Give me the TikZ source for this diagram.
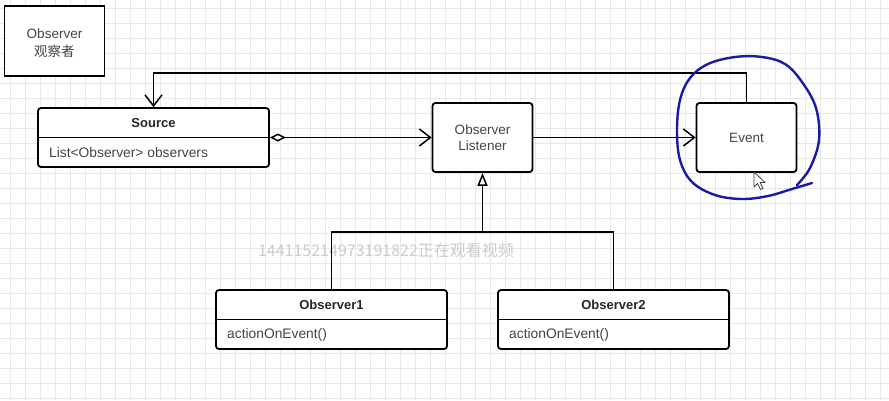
\documentclass[tikz,border=0pt]{standalone}
\usepackage{fontspec}
\setmainfont{Liberation Sans}
\newfontfamily\cjk{Noto Sans CJK SC}
\usetikzlibrary{arrows.meta,positioning}
\definecolor{gridgray}{HTML}{E8E8E8}
\definecolor{textgray}{HTML}{444444}
\definecolor{penblue}{HTML}{1A1AA6}
\begin{document}
\begin{tikzpicture}[x=1pt,y=-1pt,
  box/.style={draw=black,line width=1.8pt,fill=white,inner sep=0pt},
  notebox/.style={box,minimum width=100pt,minimum height=70pt},
  classbox/.style={box,rounded corners=3pt,minimum width=231pt,minimum height=59pt},
  simplebox/.style={box,rounded corners=3pt,minimum width=100pt,minimum height=69pt,align=center,text=textgray,font=\fontsize{13.5}{16}\selectfont},
  label/.style={align=center,text=textgray,inner sep=0pt,font=\fontsize{13.5}{18}\selectfont},
  title/.style={font=\fontsize{13}{15}\selectfont\bfseries,text=black!85,inner sep=0pt},
  attr/.style={font=\fontsize{13.8}{15}\selectfont,text=textgray,anchor=west,inner sep=0pt},
  link/.style={line width=1.5pt},
  barb/.style={link,-{Straight Barb[length=11pt,width=17pt,line width=1.5pt]}},
  aggr/.style={link,{Diamond[open,length=16pt,width=8pt,line width=1.5pt]}-{Straight Barb[length=11pt,width=17pt,line width=1.5pt]}},
  inherit/.style={link,-{Triangle[open,length=13pt,width=10pt,line width=1.5pt]}}]
\useasboundingbox (0,0) rectangle (889,400);
\fill [white] (0,0) rectangle (889,400);
\foreach \x in {10,25,...,889} \draw [gridgray,line width=0.8pt] (\x,0) -- (\x,400);
\foreach \y in {8,23,...,400} \draw [gridgray,line width=0.8pt] (0,\y) -- (889,\y);
\node [notebox] (note) at (54.5,41) {};
\node [label] (notetext) at (54.5,43) {Observer\\{\cjk 观察者}};
\node [font=\cjk\fontsize{16}{18}\selectfont,text=gray!40] (mark) at (386,250) {144115214973191822正在观看视频};
\node [classbox] (source) at (153.5,137.5) {};
\node [title] (sourcetitle) at (153.5,123) {Source};
\draw [line width=1.6pt] (source.west) -- (source.east);
\node [attr] (sourceattr) at (49,153) {List<Observer> observers};
\node [simplebox] (listener) at (482.5,137.5) {Observer\\Listener};
\node [simplebox] (event) at (746.5,137.5) {Event};
\node [classbox] (obs1) at (331.5,319.5) {};
\node [title] (obs1title) at (331.5,305) {Observer1};
\draw [line width=1.6pt] (obs1.west) -- (obs1.east);
\node [attr] (obs1attr) at (227,335) {actionOnEvent()};
\node [classbox] (obs2) at (613.5,319.5) {};
\node [title] (obs2title) at (613.5,305) {Observer2};
\draw [line width=1.6pt] (obs2.west) -- (obs2.east);
\node [attr] (obs2attr) at (509,335) {actionOnEvent()};
\coordinate (top) at (0,73);
\coordinate (join) at (482.5,232);
\draw [barb] (event.north) |- (top -| source.north) -- (source.north);
\draw [aggr] (source.east) -- (listener.west);
\draw [barb] (listener.east) -- (event.west);
\draw [link] (obs1.north) |- (join) -| (obs2.north);
\draw [inherit] (join) -- (listener.south);
\draw [penblue,line width=2.4pt,line cap=round,line join=round] plot [smooth,tension=0.6] coordinates {(797,185) (810,168) (819,140) (816,108) (802,82) (785,64) (762,57) (735,57) (708,64) (690,78) (680,100) (677,130) (680,160) (692,182) (715,195) (742,199) (768,196) (792,189) (812,183)};
\filldraw [fill=white,draw=black!75,line width=0.8pt,line join=round] (754,172) -- ++(0,15) -- ++(3.5,-3.5) -- ++(3,6) -- ++(2.5,-1.2) -- ++(-3,-5.8) -- ++(5,0) -- cycle;
\end{tikzpicture}
\end{document}
